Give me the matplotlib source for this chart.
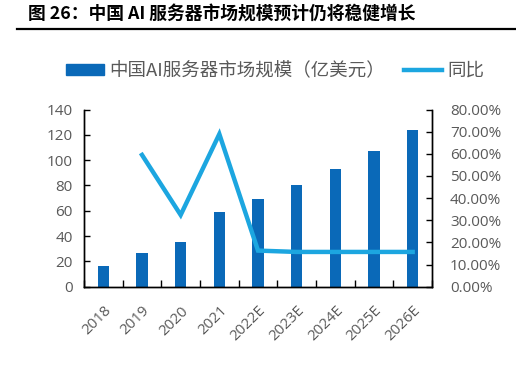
import matplotlib
matplotlib.use("Agg")
import matplotlib.pyplot as plt
from matplotlib.lines import Line2D
from matplotlib.patches import Patch

plt.rcParams['font.family'] = ['Noto Sans CJK SC', 'DejaVu Sans']

categories = ["2018", "2019", "2020", "2021", "2022E", "2023E", "2024E", "2025E", "2026E"]
market = [16, 27, 35, 59, 69, 80, 93, 107, 124]
yoy = [None, 59.5, 32.4, 68.9, 16.3, 15.7, 15.7, 15.7, 15.7]

title = "图 26：中国 AI 服务器市场规模预计仍将稳健增长"
bar_label = "中国AI服务器市场规模（亿美元）"
line_label = "同比"

bar_color = "#0a69b8"
line_color = "#1ca6e0"
grey = "#595959"

fig = plt.figure(figsize=(5.16, 3.68), dpi=100)
ax = fig.add_axes([0.1628, 0.2209, 0.6744, 0.4815])
ax2 = ax.twinx()

x = list(range(len(categories)))
ax.bar(x, market, width=0.3, color=bar_color, zorder=2)
xs = [i for i, v in zip(x, yoy) if v is not None]
ys = [v for v in yoy if v is not None]
ax2.plot(xs, ys, color=line_color, lw=3.2, solid_joinstyle='miter', zorder=3)

ax.set_xlim(-0.5, len(categories) - 0.5)
ax.set_ylim(0, 140)
ax.set_yticks(range(0, 141, 20))
ax2.set_ylim(0, 80)
ax2.set_yticks(range(0, 81, 10))
ax2.set_yticklabels([f"{v:.2f}%" for v in range(0, 81, 10)])

ax.set_xticks(x)
ax.set_xticklabels(categories, rotation=45, ha='right', rotation_mode='anchor')
ax.set_xticks([i + 0.5 for i in range(-1, len(categories))], minor=True)
ax.tick_params(axis='x', which='major', length=0, pad=12, labelsize=10.8, labelcolor=grey)
ax.tick_params(axis='x', which='minor', direction='in', length=5, width=1, color='black')
ax.tick_params(axis='y', direction='in', length=4, width=1, labelsize=11, labelcolor=grey, pad=8)
ax2.tick_params(axis='y', direction='in', length=4, width=1, labelsize=11, labelcolor=grey, pad=13)

for a in (ax, ax2):
    a.spines['top'].set_visible(False)
    for s in ('left', 'right', 'bottom'):
        a.spines[s].set_linewidth(1.0)
        a.spines[s].set_color('black')
for lab in ax.get_yticklabels() + ax2.get_yticklabels() + ax.get_xticklabels():
    lab.set_family(['Open Sans', 'DejaVu Sans'])

handles = [Patch(color=bar_color), Line2D([0], [0], color=line_color, lw=3.2)]
fig.legend(handles, [bar_label, line_label], loc='center', bbox_to_anchor=(0.533, 0.807),
           ncol=2, frameon=False, fontsize=13.3, handlelength=2.05, handleheight=0.5,
           handletextpad=0.3, columnspacing=1.0, labelcolor=grey)

fig.text(0.054, 0.962, title, fontsize=12.8, fontweight='bold', ha='left', va='center')
fig.add_artist(Line2D([0.033, 1.0], [0.92, 0.92], color='black', lw=1.6))

fig.savefig("out.png", dpi=100)
